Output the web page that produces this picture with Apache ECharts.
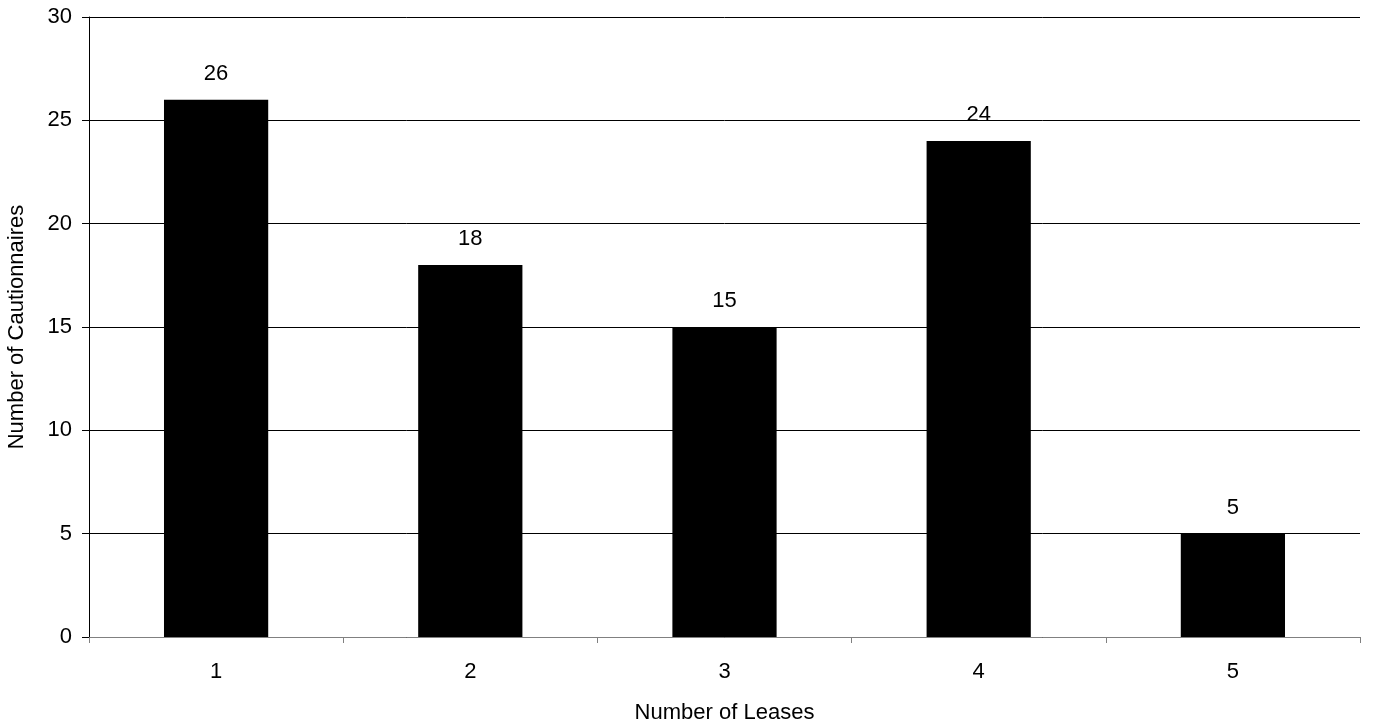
<!DOCTYPE html>
<html>
<head>
<meta charset="utf-8">
<script src="https://cdn.jsdelivr.net/npm/echarts@6/dist/echarts.min.js"></script>
<style>
  html, body { margin: 0; padding: 0; background: #ffffff; }
  #chart { width: 1375px; height: 728px; }
</style>
</head>
<body>
<div id="chart"></div>
<script>
// Number of leases held per cautionnaire
const leaseCounts = ['1', '2', '3', '4', '5'];
const cautionnaires = [26, 18, 15, 24, 5];
const yTicks = { min: 0, max: 30, step: 5 };

const FONT = '"Liberation Sans", Arial, sans-serif';
const FONT_SIZE = 22;

const chart = echarts.init(document.getElementById('chart'), null, { renderer: 'canvas' });

chart.setOption({
  animation: false,
  backgroundColor: '#ffffff',
  grid: { left: 89, right: 15, top: 17, bottom: 91, containLabel: false, outerBoundsMode: 'none' },
  xAxis: {
    type: 'category',
    data: leaseCounts,
    boundaryGap: true,
    name: 'Number of Leases',
    nameLocation: 'middle',
    nameGap: 65,
    nameTextStyle: { color: '#000', fontSize: FONT_SIZE, fontFamily: FONT },
    axisLine: { show: true, lineStyle: { color: '#808080', width: 1 } },
    axisTick: { show: true, inside: false, length: 6, alignWithLabel: false, lineStyle: { color: '#808080' } },
    axisLabel: { color: '#000', fontSize: FONT_SIZE, fontFamily: FONT, margin: 24 },
    splitLine: { show: false }
  },
  yAxis: {
    type: 'value',
    min: yTicks.min,
    max: yTicks.max,
    interval: yTicks.step,
    name: 'Number of Cautionnaires',
    nameLocation: 'middle',
    nameGap: 61,
    nameRotate: 90,
    nameTextStyle: { color: '#000', fontSize: FONT_SIZE, fontFamily: FONT },
    axisLine: { show: true, lineStyle: { color: '#000', width: 1 } },
    axisTick: { show: true, inside: false, length: 7, lineStyle: { color: '#000' } },
    axisLabel: { color: '#000', fontSize: FONT_SIZE, fontFamily: FONT, margin: 17 },
    splitLine: { show: true, lineStyle: { color: '#000', width: 1 } }
  },
  series: [{
    type: 'bar',
    data: cautionnaires,
    barWidth: '41%',
    itemStyle: { color: '#000000', borderColor: '#000000', borderWidth: 0 },
    label: {
      show: true,
      position: 'top',
      distance: 15,
      color: '#000',
      fontSize: FONT_SIZE,
      fontFamily: FONT
    }
  }]
});
</script>
</body>
</html>
